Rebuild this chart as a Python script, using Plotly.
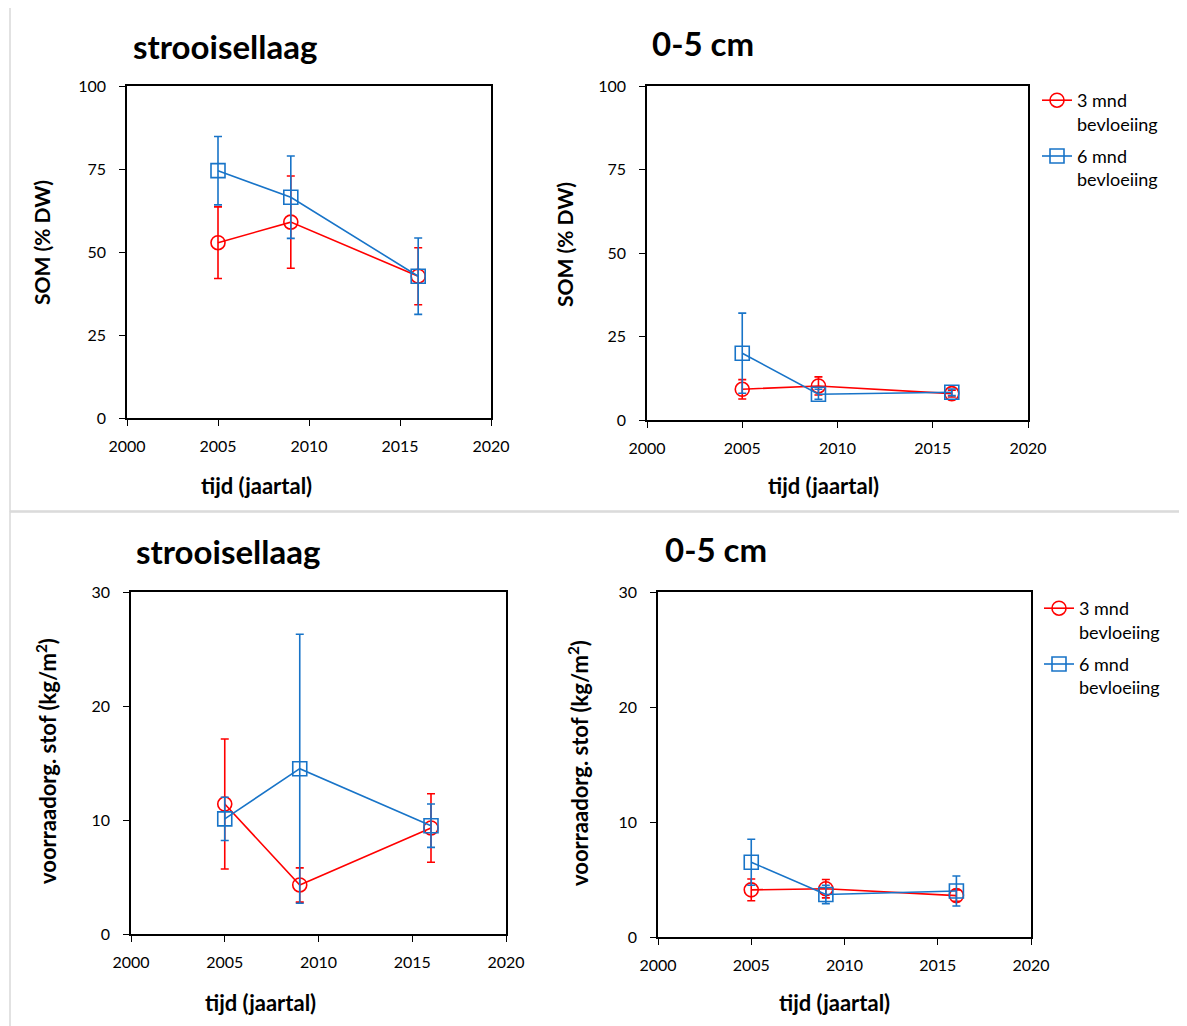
import plotly.graph_objects as go

W, H = 1187, 1026
OFF = 8  # page body margin offset

years = [2005, 2009, 2016]

# Top-left: SOM strooisellaag
som_str_3 = [52.8, 59.0, 42.7]
som_str_3_err = [10.8, 13.9, 8.6]
som_str_6 = [74.5, 66.5, 42.7]
som_str_6_err = [10.3, 12.4, 11.5]

# Top-right: SOM 0-5 cm
som_05_3 = [9.2, 10.2, 7.9]
som_05_3_err = [2.9, 2.7, 1.0]
som_05_6 = [20.0, 7.7, 8.3]
som_05_6_err = [12.0, 1.5, 1.0]

# Bottom-left: voorraad org. stof strooisellaag
vr_str_3 = [11.4, 4.3, 9.3]
vr_str_3_err = [5.7, 1.5, 3.0]
vr_str_6 = [10.1, 14.5, 9.5]
vr_str_6_err = [1.9, 11.8, 1.9]

# Bottom-right: voorraad org. stof 0-5 cm
vr_05_3 = [4.1, 4.2, 3.6]
vr_05_3_err = [0.95, 0.8, 0.5]
vr_05_6 = [6.5, 3.7, 4.0]
vr_05_6_err = [2.0, 0.8, 1.3]

names = ["3 mnd<br>bevloeiing", "6 mnd<br>bevloeiing"]
RED = "#FF0000"
BLUE = "#1874C8"
FONT = "Lato"

def px_x(x):
    return (x - OFF) / W

def px_y(y):
    return 1 - (y - OFF) / H

fig = go.Figure()

panels = [
    ("", som_str_3, som_str_3_err, som_str_6, som_str_6_err, None, (127, 491), (86, 418), [0, 100], 25),
    ("2", som_05_3, som_05_3_err, som_05_6, som_05_6_err, "legend", (647, 1028), (86, 420), [0, 100], 25),
    ("3", vr_str_3, vr_str_3_err, vr_str_6, vr_str_6_err, None, (131, 506), (592, 934), [0, 30], 10),
    ("4", vr_05_3, vr_05_3_err, vr_05_6, vr_05_6_err, "legend2", (658, 1031), (592, 937), [0, 30], 10),
]

layout_axes = {}
for suf, d3, e3, d6, e6, leg, xd, yd, yr, dt in panels:
    xa = "x" + suf
    ya = "y" + suf
    for vals, errs, col, sym, nm, grp in [(d3, e3, RED, "circle-open", names[0], "g3"),
                                          (d6, e6, BLUE, "square-open", names[1], "g6")]:
        fig.add_trace(go.Scatter(
            x=years, y=vals, xaxis=xa, yaxis=ya,
            mode="lines+markers", name=nm, legendgroup=grp + suf,
            line=dict(color=col, width=1.6),
            marker=dict(symbol=sym, size=14, color=col, line=dict(color=col, width=1.6)),
            error_y=dict(type="data", array=errs, visible=True, color=col, thickness=1.6, width=4),
            showlegend=leg is not None,
            legend=leg if leg else "legend",
        ))
    common = dict(showgrid=False, zeroline=False, showline=True, linecolor="#000000",
                  linewidth=1.5, mirror=True, ticks="outside", ticklen=6, tickwidth=1.3,
                  tickcolor="#000000", automargin=False,
                  tickfont=dict(family=FONT, size=16, color="#000000"))
    layout_axes["xaxis" + suf] = dict(domain=[px_x(xd[0]), px_x(xd[1])], range=[2000, 2020],
                                      dtick=5, tick0=2000, anchor=ya, ticklabelstandoff=7, **common)
    layout_axes["yaxis" + suf] = dict(domain=[px_y(yd[1]), px_y(yd[0])], range=yr,
                                      dtick=dt, tick0=0, anchor=xa, ticklabelstandoff=10, **common)

fig.update_layout(**layout_axes)

annotations = []
def ann(text, x, y, size, bold=True, angle=0, xanchor="center"):
    annotations.append(dict(text=("<b>%s</b>" % text) if bold else text,
                            x=px_x(x), y=px_y(y), xref="paper", yref="paper",
                            showarrow=False, textangle=angle, xanchor=xanchor, yanchor="middle",
                            font=dict(family=FONT, size=size, color="#000000")))

# panel titles
ann("strooisellaag", 131, 46, 33, xanchor="left")
ann("0-5 cm", 650, 43, 33, xanchor="left")
ann("strooisellaag", 134, 551, 33, xanchor="left")
ann("0-5 cm", 663, 549, 33, xanchor="left")

# x-axis titles
ann("tijd (jaartal)", 257, 485, 22)
ann("tijd (jaartal)", 823, 485, 22)
ann("tijd (jaartal)", 261, 1002, 22)
ann("tijd (jaartal)", 834, 1002, 22)

# y-axis titles
ann("SOM (% DW)", 42, 243, 21, angle=-90)
ann("SOM (% DW)", 564, 245, 21, angle=-90)
ann("voorraadorg. stof (kg/m<sup>2</sup>)", 46, 761, 22, angle=-90)
ann("voorraadorg. stof (kg/m<sup>2</sup>)", 578, 763, 22, angle=-90)

shapes = [
    dict(type="rect", xref="paper", yref="paper", x0=px_x(10), x1=px_x(1181), y0=px_y(511), y1=px_y(7),
         line=dict(color="#D9D9D9", width=1.5)),
    dict(type="rect", xref="paper", yref="paper", x0=px_x(10), x1=px_x(1181), y0=px_y(1040), y1=px_y(512),
         line=dict(color="#D9D9D9", width=1.5)),
]

legend_common = dict(font=dict(family=FONT, size=18, color="#000000"), bgcolor="rgba(0,0,0,0)",
                     xanchor="left", yanchor="top", tracegroupgap=6, itemwidth=30, valign="top")

fig.update_layout(
    width=W, height=H,
    margin=dict(l=0, r=0, t=0, b=0, pad=0, autoexpand=False),
    paper_bgcolor="#FFFFFF", plot_bgcolor="#FFFFFF",
    annotations=annotations, shapes=shapes,
    legend=dict(x=px_x(1037), y=px_y(82), **legend_common),
    legend2=dict(x=px_x(1039), y=px_y(590), **legend_common),
)

fig.write_html("out.html")
